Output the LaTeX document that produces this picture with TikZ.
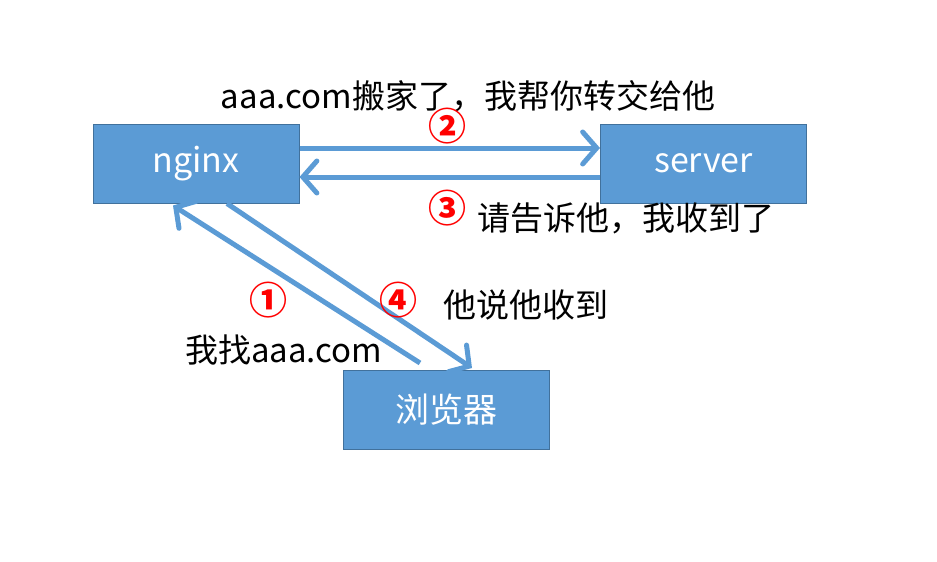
\documentclass[tikz,border=0pt]{standalone}
\usepackage{fontspec}
\setmainfont{Noto Sans CJK SC}
\usetikzlibrary{arrows.meta}
\definecolor{boxfill}{RGB}{91,155,213}
\definecolor{boxborder}{RGB}{65,113,156}
\begin{document}
\begin{tikzpicture}[x=1pt,y=-1pt,
 box/.style={draw=boxborder, fill=boxfill, line width=1pt, minimum width=206pt, minimum height=79pt, text=white, font=\fontsize{34}{40}\selectfont, inner sep=0pt},
 link/.style={draw=boxfill, line width=5pt, -{Straight Barb[length=14pt,width=32pt,line cap=round]}},
 lbl/.style={font=\fontsize{33}{38}\selectfont, inner sep=0pt, anchor=west},
 num/.style={text=red, font=\fontsize{38}{40}\selectfont\bfseries, inner sep=0pt}]
\useasboundingbox (0,0) rectangle (937,562);
\node[box] (nginx) at (196,163.5) {nginx};
\node[box] (server) at (703.5,163.5) {server};
\node[box] (browser) at (446.5,410) {浏览器};
\draw[link] ([yshift=15.5pt]nginx.east) -- ([yshift=15.5pt]server.west);
\draw[link] ([yshift=-13.5pt]server.west) -- ([yshift=-13.5pt]nginx.east);
\draw[link] ([xshift=-26.5pt,yshift=7pt]browser.north) -- ([xshift=-23pt,yshift=-2pt]nginx.south);
\draw[link] ([xshift=31pt]nginx.south) -- ([xshift=25.5pt,yshift=2pt]browser.north);
\node[lbl, anchor=center] (t2) at (468,96) {aaa.com搬家了，我帮你转交给他};
\node[num] (n2) at (447,126) {②};
\node[num] (n3) at (447,208) {③};
\node[lbl] (t3) at (477,218) {请告诉他，我收到了};
\node[num] (n1) at (268,300) {①};
\node[num] (n4) at (398,300) {④};
\node[lbl] (t4) at (443,305) {他说他收到};
\node[lbl] (t1) at (185,350) {我找aaa.com};
\end{tikzpicture}
\end{document}
